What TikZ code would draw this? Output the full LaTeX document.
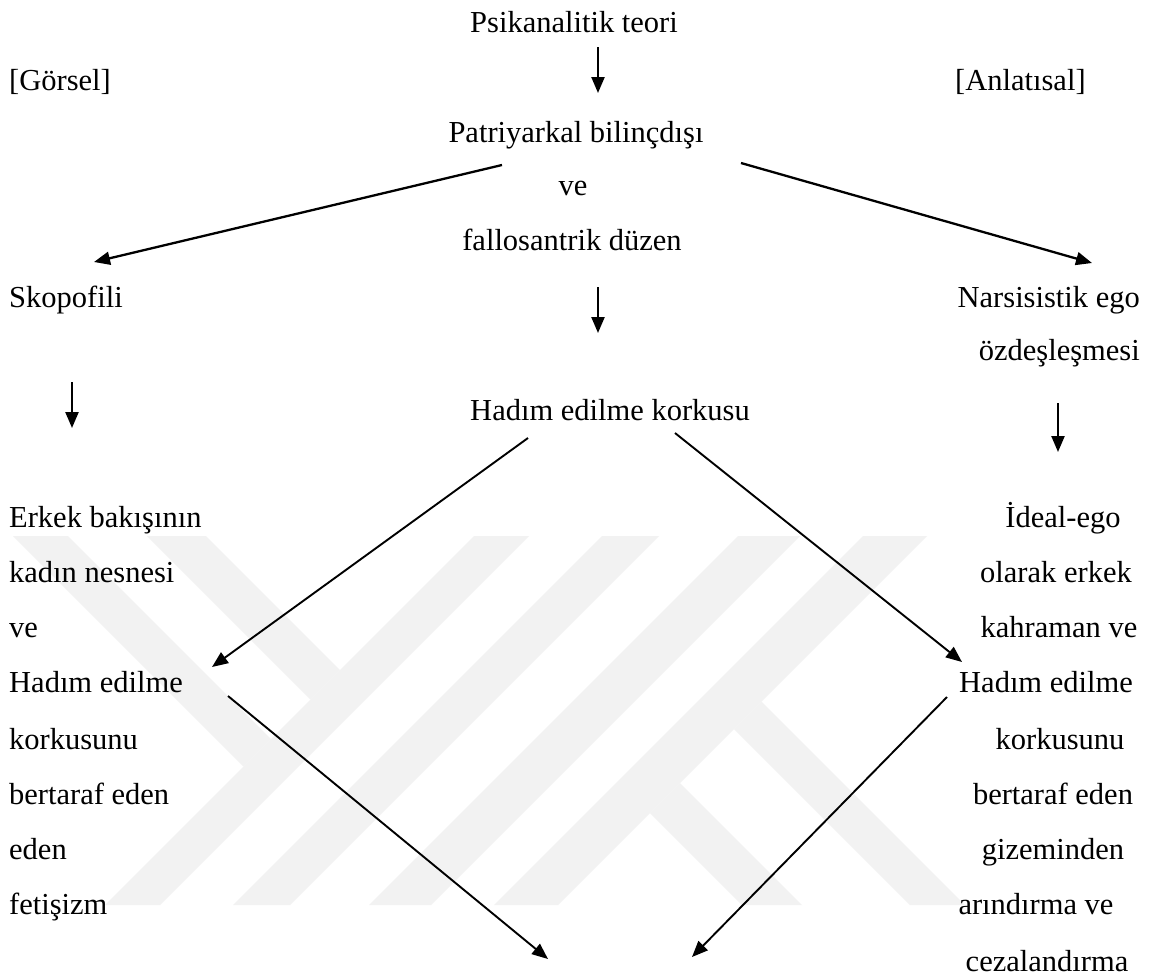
\documentclass[tikz,border=0pt]{standalone}
\usepackage{fontspec}
\setmainfont{Liberation Serif}
\usetikzlibrary{arrows.meta}
\begin{document}
\begin{tikzpicture}[x=1pt,y=-1pt,
  lbl/.style={inner sep=0pt, font=\fontsize{30.5}{36}\selectfont, anchor=base},
  lft/.style={lbl, anchor=base west},
  rgt/.style={lbl, anchor=base east},
  arr/.style={line width=2.3pt, -{Triangle[length=16pt,width=13pt]}},
  arrthin/.style={line width=1.9pt, -{Triangle[length=16pt,width=13pt]}},
  wm/.style={fill=black!5, draw=none}]
\useasboundingbox (0,0) rectangle (1152,978);
\fill[white] (0,0) rectangle (1152,978);
% watermark
\fill[wm] (13,536) -- (68,536) -- (271,739) -- (243.5,766.5) -- cycle;
\fill[wm] (147,536) -- (206,536) -- (340,670) -- (310.5,699.5) -- cycle;
\fill[wm] (474,536) -- (529,536) -- (160,905) -- (105,905) -- cycle;
\fill[wm] (602,536) -- (659,536) -- (290,905) -- (233,905) -- cycle;
\fill[wm] (738,536) -- (800,536) -- (431,905) -- (369,905) -- cycle;
\fill[wm] (863,536) -- (927,536) -- (558,905) -- (494,905) -- cycle;
\fill[wm] (761.5,701.5) -- (965,905) -- (910,905) -- (734,729) -- cycle;
\fill[wm] (680,783) -- (802,905) -- (742,905) -- (650,813) -- cycle;
% texts
\node[lbl] (psik) at (574,32) {Psikanalitik teori};
\node[lft] (gorsel) at (9,90) {[Görsel]};
\node[lft] (anlat) at (955,90) {[Anlatısal]};
\node[lbl] (patr) at (576,142) {Patriyarkal bilinçdışı};
\node[lbl] (ve1) at (573,195) {ve};
\node[lbl] (fall) at (572,250) {fallosantrik düzen};
\node[lft] (skop) at (9,307) {Skopofili};
\node[rgt] (nars) at (1140,307) {Narsisistik ego};
\node[rgt] (ozd) at (1140,360) {özdeşleşmesi};
\node[lbl] (hadim) at (610,420) {Hadım edilme korkusu};
% left column
\node[lft] (l1) at (9,527) {Erkek bakışının};
\node[lft] (l2) at (9,582) {kadın nesnesi};
\node[lft] (l3) at (9,637) {ve};
\node[lft] (l4) at (9,692) {Hadım edilme};
\node[lft] (l5) at (9,749) {korkusunu};
\node[lft] (l6) at (9,804) {bertaraf eden};
\node[lft] (l7) at (9,859) {eden};
\node[lft] (l8) at (9,914) {fetişizm};
% right column
\node[lbl] (r1) at (1063,527) {İdeal-ego};
\node[lbl] (r2) at (1056,582) {olarak erkek};
\node[lbl] (r3) at (1059,637) {kahraman ve};
\node[lbl] (r4) at (1046,692) {Hadım edilme};
\node[lbl] (r5) at (1060,749) {korkusunu};
\node[lbl] (r6) at (1053,804) {bertaraf eden};
\node[lbl] (r7) at (1053,859) {gizeminden};
\node[lbl] (r8) at (1036,914) {arındırma ve};
\node[lbl] (r9) at (1047,971) {cezalandırma};
% connector end points
\coordinate (a1s) at (598,47);   \coordinate (a1e) at (598,93);
\coordinate (a2s) at (502,165);  \coordinate (a2e) at (94,262);
\coordinate (a3s) at (741,163);  \coordinate (a3e) at (1092,263);
\coordinate (a4s) at (598,287);  \coordinate (a4e) at (598,333);
\coordinate (a5s) at (72,382);   \coordinate (a5e) at (72,428);
\coordinate (a6s) at (1058,403); \coordinate (a6e) at (1058,452);
\coordinate (a7s) at (528,438);  \coordinate (a7e) at (212,667);
\coordinate (a8s) at (675,433);  \coordinate (a8e) at (962,662);
\coordinate (a9s) at (228,696);  \coordinate (a9e) at (548,959);
\coordinate (a10s) at (947,697); \coordinate (a10e) at (692,957);
\draw[arr] (a1s) -- (a1e);
\draw[arr] (a2s) -- (a2e);
\draw[arr] (a3s) -- (a3e);
\draw[arr] (a4s) -- (a4e);
\draw[arr] (a5s) -- (a5e);
\draw[arr] (a6s) -- (a6e);
\draw[arrthin] (a7s) -- (a7e);
\draw[arrthin] (a8s) -- (a8e);
\draw[arrthin] (a9s) -- (a9e);
\draw[arrthin] (a10s) -- (a10e);
\end{tikzpicture}
\end{document}
